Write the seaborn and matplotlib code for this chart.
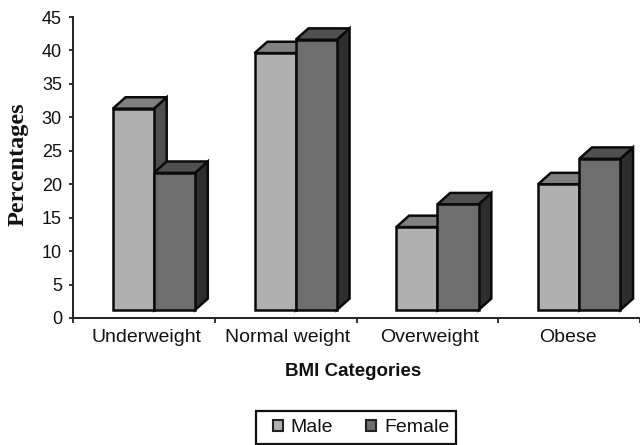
import matplotlib
matplotlib.use("Agg")
import matplotlib.pyplot as plt
from matplotlib.patches import Polygon, Patch, Rectangle
from matplotlib.transforms import ScaledTranslation
import pandas as pd
import seaborn as sns

categories = ["Underweight", "Normal weight", "Overweight", "Obese"]
male = [31.3, 39.6, 13.6, 20.0]
female = [21.7, 41.6, 17.0, 23.8]
series = ["Male", "Female"]
floor = 1.2
depth_x, depth_y = 0.09, 1.7
front = {"Male": "#b0b0b0", "Female": "#6e6e6e"}
top = {"Male": "#808080", "Female": "#505050"}
side = {"Male": "#505050", "Female": "#2e2e2e"}

sns.set_theme(style="white")
plt.rcParams["font.family"] = ["Liberation Sans", "DejaVu Sans"]

df = pd.DataFrame({
    "cat": categories * 2,
    "sex": ["Male"] * 4 + ["Female"] * 4,
    "val": male + female,
})
df["height"] = df["val"] - floor

W, H = 640, 445
fig = plt.figure(figsize=(W / 100, H / 100), dpi=100)
ax = fig.add_axes([73 / W, 1 - 318 / H, 567 / W, 301 / H])
sns.barplot(data=df, x="cat", y="height", hue="sex", hue_order=series,
            palette=front, width=0.58, gap=0, bottom=floor, legend=False,
            edgecolor="#0a0a0a", linewidth=1.8, saturation=1, ax=ax, zorder=5)

for z, (name, cont) in enumerate(zip(series, ax.containers)):
    for b in cont:
        x0, x1 = b.get_x(), b.get_x() + b.get_width()
        y0, y1 = b.get_y(), b.get_y() + b.get_height()
        ax.add_patch(Polygon([(x1, y0), (x1 + depth_x, y0 + depth_y), (x1 + depth_x, y1 + depth_y), (x1, y1)],
                             closed=True, fc=side[name], ec="#0a0a0a", lw=1.8, zorder=2 + z))
        ax.add_patch(Polygon([(x0, y1), (x0 + depth_x, y1 + depth_y), (x1 + depth_x, y1 + depth_y), (x1, y1)],
                             closed=True, fc=top[name], ec="#0a0a0a", lw=1.8, zorder=2 + z))

ax.set_xlim(-0.571, 3.429)
ax.set_ylim(0, 45)
ax.set_yticks(range(0, 46, 5))
ax.set_xticks(range(len(categories)))
ax.set_xticklabels(categories, va="baseline")
ax.set_xticks([i - 0.571 for i in range(5)], minor=True)
ax.tick_params(axis="x", which="major", length=0, pad=17, labelsize=14, labelcolor="#111111")
ax.tick_params(axis="x", which="minor", length=3.6, width=1.3, color="#222222", bottom=True)
ax.tick_params(axis="y", length=3, width=1.3, color="#222222", left=True, pad=5,
               labelsize=13, labelcolor="#111111")
shifts = [-7, -8, -8, -11]
for lab, s in zip(ax.get_xticklabels(), shifts):
    lab.set_transform(lab.get_transform() + ScaledTranslation(s / 100, 0, fig.dpi_scale_trans))

for s in ("top", "right"):
    ax.spines[s].set_visible(False)
for s in ("left", "bottom"):
    ax.spines[s].set_color("#222222")
    ax.spines[s].set_linewidth(1.4)

ax.set_xlabel("")
ax.set_ylabel("")
fig.text(353 / W, 1 - 371 / H, "BMI Categories", ha="center", va="center",
         fontsize=13.5, fontweight="bold", color="#111111")
fig.text(18 / W, 1 - 164 / H, "Percentages", ha="center", va="center", rotation=90,
         fontsize=17.5, fontweight="bold", color="#111111", family="Liberation Serif")

handles = [Patch(fc=front[n], ec="#222222", lw=1.5, label=n) for n in series]
leg = fig.legend(handles=handles, ncols=2, loc="center", bbox_to_anchor=(361 / W, 1 - 428 / H),
                 frameon=False, fontsize=14, handlelength=0.52, handleheight=0.52,
                 handletextpad=0.4, columnspacing=1.7, borderpad=0.2, labelcolor="#111111")
fig.add_artist(Rectangle((256 / W, 1 - 444 / H), 200 / W, 33 / H, transform=fig.transFigure,
                         fc="none", ec="#111111", lw=1.6))

fig.savefig("out.png", dpi=100, facecolor="white")
